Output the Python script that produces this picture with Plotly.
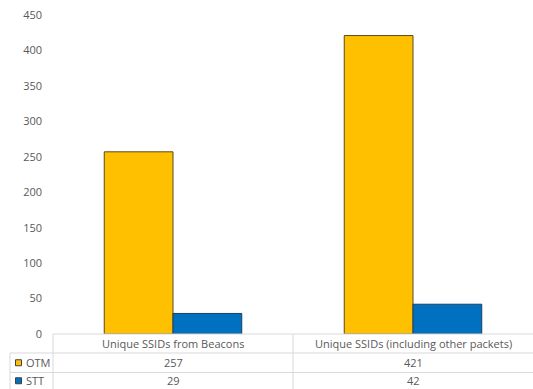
import plotly.graph_objects as go

# Chart data
categories = ["Unique SSIDs from Beacons", "Unique SSIDs (including other packets)"]
series_names = ["OTM", "STT"]
otm_values = [257, 421]
stt_values = [29, 42]
series_values = [otm_values, stt_values]
series_colors = ["#FFC000", "#0070C0"]
series_outlines = ["#5a4a1a", "#1f3f5f"]
y_ticks = [0, 50, 100, 150, 200, 250, 300, 350, 400, 450]

W, H = 533, 389
ML, MR, MT, MB = 53, 0, 15, 55
plot_w = W - ML - MR
plot_h = H - MT - MB


def px(x):
    return (x - ML) / plot_w


def py(y):
    return (H - MB - y) / plot_h


fig = go.Figure()
for name, vals, col, oc in zip(series_names, series_values, series_colors, series_outlines):
    fig.add_trace(go.Bar(
        x=list(range(len(categories))), y=vals, name=name,
        marker=dict(color=col, line=dict(color=oc, width=1)),
        showlegend=False,
    ))

grid = "#d9d9d9"
txt = "#595959"
font_family = "Open Sans, Liberation Sans, Arial"

shapes = []
# data table lines
y_top, y_r1, y_r2, y_bot = 334, 353, 372.5, 389
x_left, x_cat, x_end = 10, 53, 533
col_edges = [x_cat + i * (x_end - x_cat) / len(categories) for i in range(len(categories) + 1)]
shapes.append(dict(type="line", xref="paper", yref="paper", x0=px(x_cat), x1=px(x_end),
                   y0=py(y_top), y1=py(y_top), line=dict(color=grid, width=1)))
for yy in (y_r1, y_r2):
    shapes.append(dict(type="line", xref="paper", yref="paper", x0=px(x_left), x1=px(x_end),
                       y0=py(yy), y1=py(yy), line=dict(color=grid, width=1)))
shapes.append(dict(type="line", xref="paper", yref="paper", x0=px(x_left), x1=px(x_left),
                   y0=py(y_r1), y1=py(y_bot), line=dict(color=grid, width=1)))
for xe in col_edges[:-1]:
    shapes.append(dict(type="line", xref="paper", yref="paper", x0=px(xe), x1=px(xe),
                       y0=py(y_top), y1=py(y_bot), line=dict(color=grid, width=1)))

annotations = []
row_centers = [(y_r1 + y_r2) / 2, (y_r2 + y_bot) / 2]
for i, cat in enumerate(categories):
    cx = (col_edges[i] + col_edges[i + 1]) / 2
    annotations.append(dict(xref="paper", yref="paper", x=px(cx), y=py((y_top + y_r1) / 2),
                            text=cat, showarrow=False, xanchor="center", yanchor="middle",
                            font=dict(size=11, color=txt, family=font_family)))
    for r, vals in enumerate(series_values):
        annotations.append(dict(xref="paper", yref="paper", x=px(cx), y=py(row_centers[r]),
                                text=str(vals[i]), showarrow=False, xanchor="center",
                                yanchor="middle",
                                font=dict(size=11, color=txt, family=font_family)))

# row labels with legend keys
for r, (name, col, oc) in enumerate(zip(series_names, series_colors, series_outlines)):
    yc = row_centers[r]
    shapes.append(dict(type="rect", xref="paper", yref="paper",
                       x0=px(15.5), x1=px(21.5), y0=py(yc + 3), y1=py(yc - 3),
                       fillcolor=col, line=dict(color="#404040", width=1)))
    annotations.append(dict(xref="paper", yref="paper", x=px(23.5), y=py(yc),
                            text=name, showarrow=False, xanchor="left", yanchor="middle",
                            font=dict(size=11, color=txt, family=font_family)))

fig.update_layout(
    width=W, height=H,
    margin=dict(l=ML, r=MR, t=MT, b=MB, pad=0),
    paper_bgcolor="white", plot_bgcolor="white",
    barmode="group", bargap=0.427, bargroupgap=0,
    xaxis=dict(range=[-0.5, 1.5], showticklabels=False, showgrid=False,
               zeroline=False, showline=False, ticks=""),
    yaxis=dict(range=[0, 450], tickvals=y_ticks, showgrid=False, zeroline=False,
               showline=False, ticks="", ticklabelstandoff=10,
               tickfont=dict(size=11, color=txt, family=font_family)),
    shapes=shapes,
    annotations=annotations,
)

fig.write_html("out.html")
